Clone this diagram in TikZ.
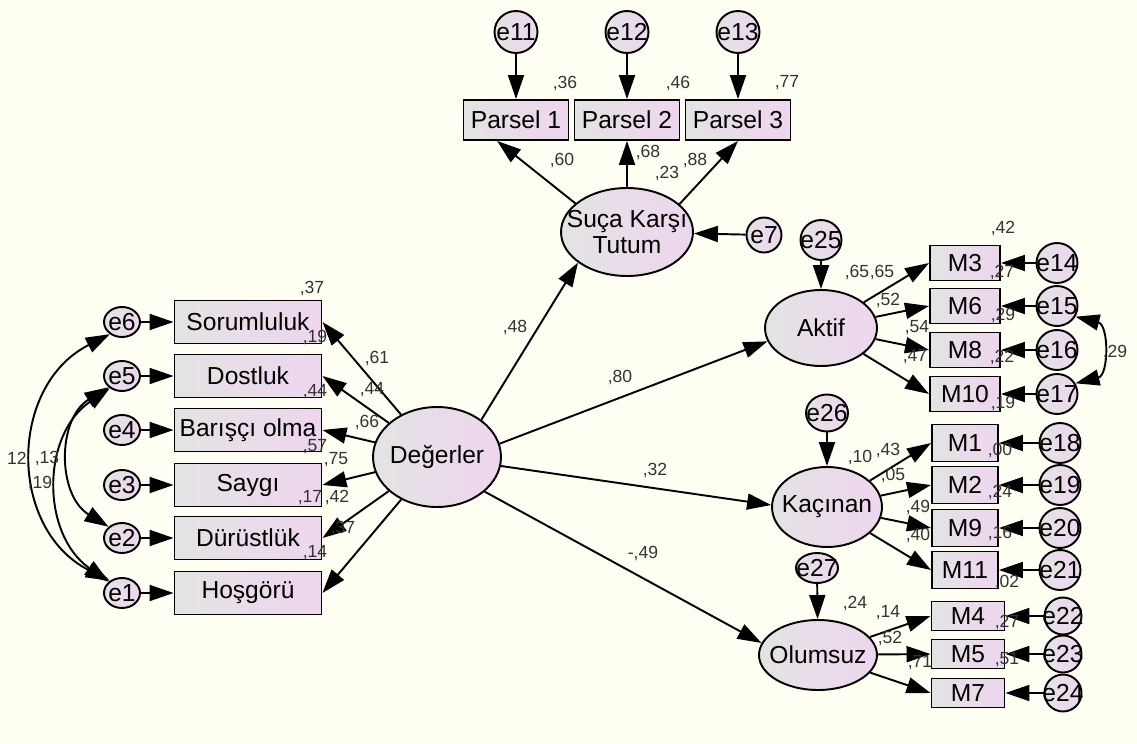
\documentclass[tikz,border=0pt]{standalone}
\usepackage{fontspec}
\setmainfont{Liberation Sans}
\usetikzlibrary{arrows.meta,shapes.geometric}
\definecolor{paper}{HTML}{FFFFF4}
\definecolor{fillgrey}{HTML}{E3E3E3}
\definecolor{fillpink}{HTML}{EED6EE}
\begin{document}
\begin{tikzpicture}
[x=0.02cm,y=-0.02cm,line width=1.1pt,
>={Triangle[length=0.48cm,width=0.32cm]},
obs/.style={rectangle,draw,left color=fillgrey,right color=fillpink,inner sep=1pt,
  minimum width=1.4cm,minimum height=0.7cm,font=\fontsize{14}{16}\selectfont},
lat/.style={ellipse,draw,left color=fillgrey,right color=fillpink,inner sep=0pt,
  label={[align=center,font=\fontsize{14}{15}\selectfont]center:#1}},
err/.style={ellipse,draw,left color=fillgrey,right color=fillpink,inner sep=0pt,
  minimum width=0.82cm,minimum height=0.8cm,
  label={[font=\fontsize{14}{16}\selectfont]center:#1}},
val/.style={inner sep=0pt,text=black!80,font=\fontsize{10}{12}\selectfont}]
\path[use as bounding box,fill=paper] (0,0) rectangle (1137,744);
%Degerler
\node[lat=Değerler,minimum width=2.56cm,minimum height=2cm] (deg) at (437,457) {};
\foreach \n/\t/\y in {6/Sorumluluk/322,5/Dostluk/376,4/Barışçı olma/430,3/Saygı/485,2/Dürüstlük/538,1/Hoşgörü/593}
{
	\node[err=e\n,minimum width=0.72cm,minimum height=0.6cm] (e\n) at (122,\y) {};
	\node[obs,minimum width=2.94cm,minimum height=0.86cm] (v\n) at (248,\y) {\t};
	\draw[->] (e\n) -- (v\n);
	\draw[->] (deg) -- (v\n.east);
}
\draw[<->] (e6.225) .. controls (8,386) and (8,529) .. (e1.135);
\draw[<->] (e5.225) .. controls (41,435) and (41,534) .. (e1.140);
\draw[<->] (e5.220) .. controls (57,419) and (57,495) .. (e2.140);
%Suca
\node[lat={Suça Karşı\\Tutum},minimum width=2.64cm,minimum height=1.76cm] (suca) at (627,232) {};
\foreach \n/\x in {1/516,2/627,3/738}
{
	\node[err=e1\n,minimum width=0.86cm,minimum height=0.84cm] (e1\n) at (\x,32) {};
	\node[obs,minimum width=2.1cm,minimum height=0.8cm] (p\n) at (\x,120) {Parsel \n};
	\draw[->] (e1\n) -- (p\n);
}
\draw[->] (suca.151) -- (p1.228);
\draw[->] (suca) -- (p2);
\draw[->] (suca.28) -- (p3.south);
\node[err=e7,minimum width=0.7cm,minimum height=0.7cm] (e7) at (764,235) {};
\draw[->] (e7) -- (suca);
\draw[->] (deg.40) -- (suca.212);
%Aktif
\node[lat=Aktif,minimum width=2.24cm,minimum height=1.52cm] (akt) at (821,328) {};
\node[err=e25] (e25) at (821,240) {};
\draw[->] (e25) -- (akt);
\foreach \m/\e/\y in {3/14/263,6/15/306,8/16/350,10/17/394}
{
	\node[obs] (m\m) at (965,\y) {M\m};
	\node[err=e\e] (e\e) at (1057,\y) {};
	\draw[->] (akt) -- (m\m.west);
	\draw[->] (e\e) -- (m\m);
}
\draw[<->] (e15.-30) .. controls (1109,325) and (1109,375) .. (e17.30);
\draw[->] (deg.12) -- (akt.194);
%Kacinan
\node[lat=Kaçınan,minimum width=2.2cm,minimum height=1.6cm] (kac) at (827,507) {};
\node[err=e26,minimum width=0.84cm,minimum height=0.74cm] (e26) at (827,413) {};
\draw[->] (e26) -- (kac);
\foreach \m/\e/\y in {1/18/443,2/19/485,9/20/528,11/21/570}
{
	\node[obs,minimum width=1.32cm,minimum height=0.74cm] (m\m) at (965,\y) {M\m};
	\node[err=e\e] (e\e) at (1060,\y) {};
	\draw[->] (kac) -- (m\m.west);
	\draw[->] (e\e) -- (m\m);
}
\draw[->] (deg.352) -- (kac.178);
%Olumsuz
\node[lat=Olumsuz,minimum width=2.36cm,minimum height=1.4cm] (olu) at (818,655) {};
\node[err=e27,minimum width=0.84cm,minimum height=0.6cm] (e27) at (817,568) {};
\draw[->] (e27) -- (olu);
\foreach \m/\e/\y in {4/22/616,5/23/654,7/24/693}
{
	\node[obs,minimum width=1.46cm,minimum height=0.58cm] (m\m) at (968,\y) {M\m};
	\node[err=e\e,minimum width=0.74cm,minimum height=0.74cm] (e\e) at (1063,\y) {};
	\draw[->] (olu) -- (m\m.west);
	\draw[->] (e\e) -- (m\m);
}
\draw[->] (deg.324) -- (olu.168);
%values
\foreach \x/\y/\t [count=\i] in {565/83/{,36},678/83/{,46},787/83/{,77},562/160/{,60},648/152/{,68},
	695/160/{,88},667/173/{,23},312/288/{,37},315/337/{,19},315/392/{,44},315/447/{,57},310/498/{,17},
	315/553/{,14},377/358/{,61},372/390/{,44},367/422/{,66},336/460/{,75},337/497/{,42},343/528/{,37},
	17/458/12,47/458/{,13},40/483/{,19},515/327/{,48},620/377/{,80},655/470/{,32},643/553/{-,49},
	857/272/{,65},882/272/{,65},888/300/{,52},917/328/{,54},915/357/{,47},1003/228/{,42},1002/272/{,27},
	1003/315/{,29},1002/357/{,22},1003/403/{,19},1115/352/{,29},860/457/{,10},888/450/{,43},
	893/475/{,05},918/507/{,49},918/535/{,40},1000/450/{,00},1000/492/{,24},1000/533/{,16},
	1007/582/{,02},855/603/{,24},888/613/{,14},890/638/{,52},920/663/{,71},1007/622/{,27},1007/660/{,51}}
	\node[val] (r\i) at (\x,\y) {\t};
\end{tikzpicture}
\end{document}
